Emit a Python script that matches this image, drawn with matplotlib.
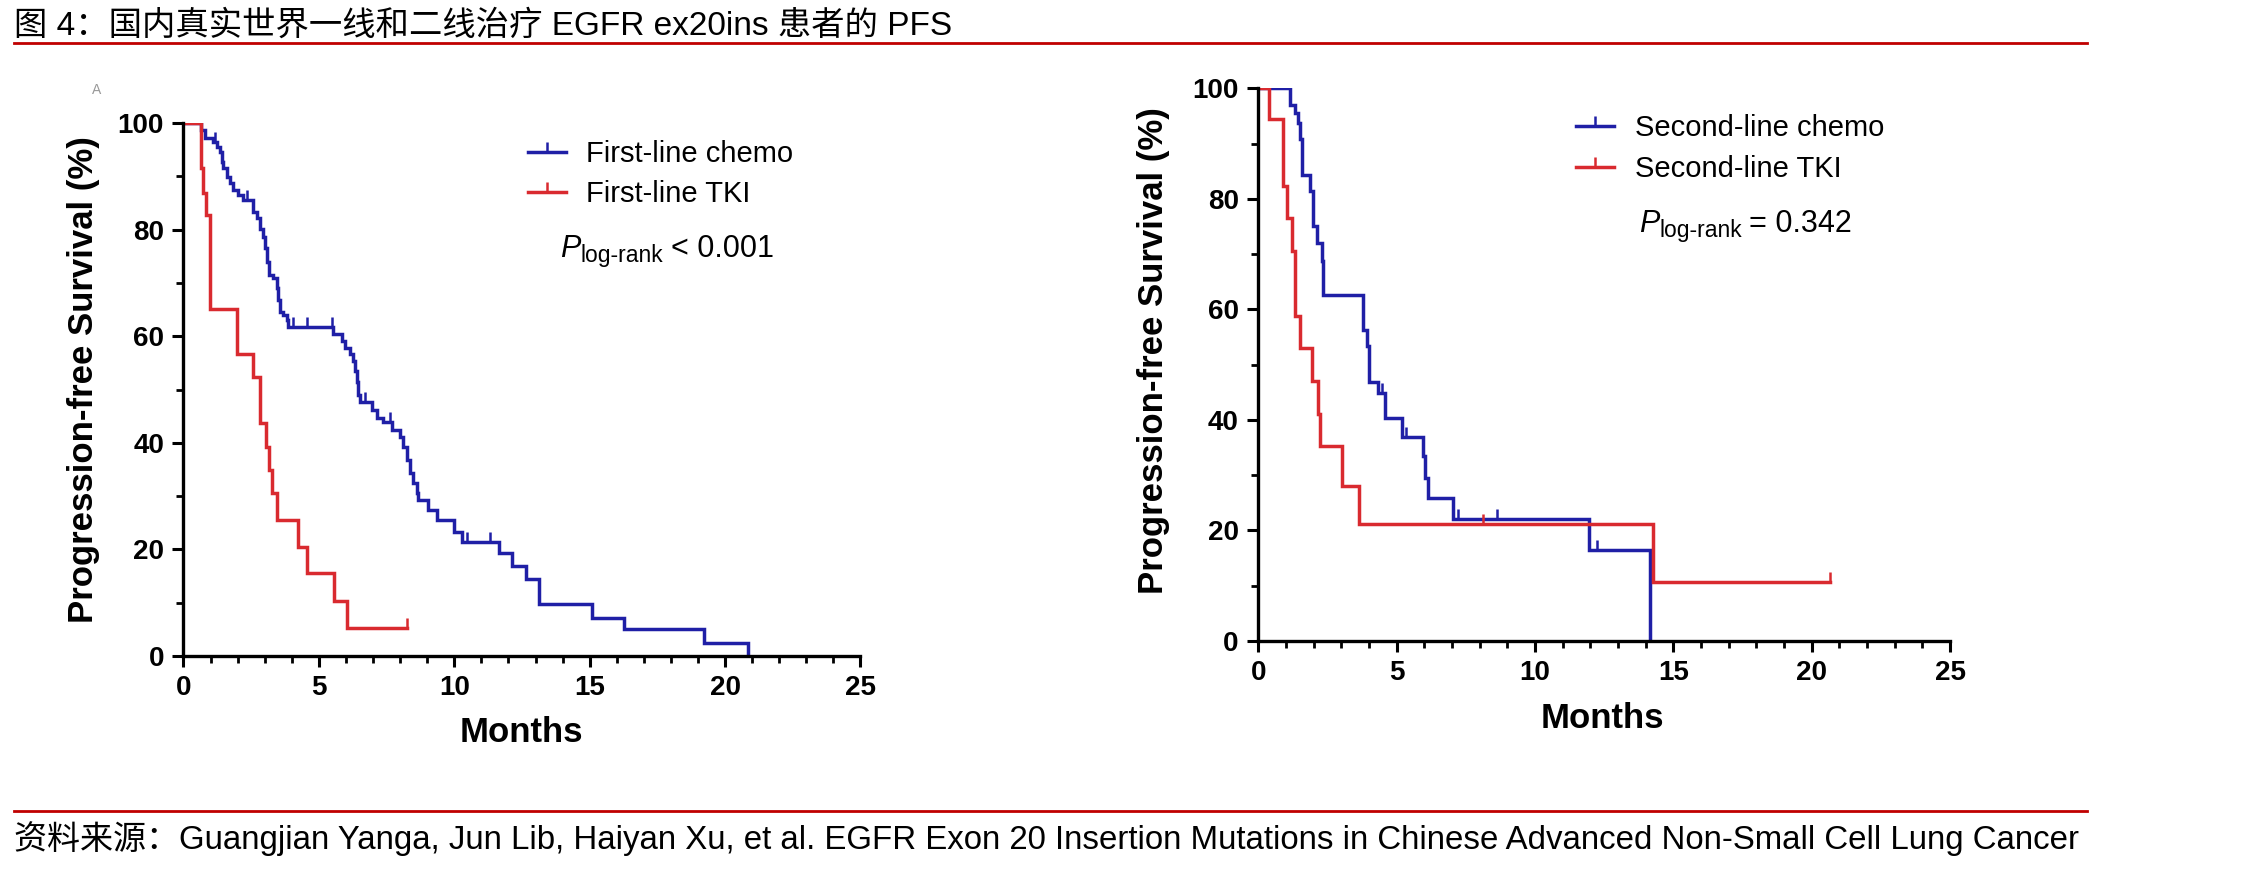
import matplotlib
matplotlib.use("Agg")
import matplotlib.pyplot as plt
import numpy as np
from matplotlib.lines import Line2D

plt.rcParams["font.family"] = ["Liberation Sans", "DejaVu Sans"]

# ---------------------------------------------------------------- data
# left panel: first line
fl_chemo_t = [0, 0.63, 0.79, 1.10, 1.23, 1.35, 1.41, 1.47, 1.59, 1.71, 1.84, 2.03, 2.21,
              2.58, 2.70, 2.83, 2.95, 3.01, 3.10, 3.17, 3.32, 3.44, 3.50, 3.56, 3.69, 3.81,
              3.87, 5.53, 5.84, 5.96, 6.15, 6.27, 6.33, 6.39, 6.46, 6.52, 6.95, 7.13, 7.38,
              7.69, 8.00, 8.12, 8.24, 8.36, 8.49, 8.61, 8.67, 9.04, 9.35, 10.00, 10.27,
              11.66, 12.13, 12.63, 13.12, 15.10, 16.25, 19.23, 20.86]
fl_chemo_s = [100, 98.7, 97.2, 96.5, 95.6, 94.6, 92.7, 91.5, 89.9, 88.7, 87.4, 86.5, 85.6,
              83.4, 82.1, 80.2, 78.7, 76.5, 74.0, 71.5, 70.9, 69.0, 66.8, 64.6, 64.0, 63.0,
              61.8, 60.5, 59.1, 57.8, 56.6, 55.3, 53.4, 51.5, 49.0, 47.7, 46.1, 44.6, 43.9,
              42.4, 41.1, 39.3, 36.8, 34.3, 32.4, 30.5, 29.3, 27.4, 25.5, 23.3, 21.4,
              19.3, 16.8, 14.4, 9.7, 7.2, 5.0, 2.5, 0.0]
fl_chemo_cens = [1.16, 2.35, 4.06, 4.55, 5.47, 6.70, 7.63, 10.46, 11.32]

fl_tki_t = [0, 0.63, 0.73, 0.83, 0.98, 1.96, 2.55, 2.82, 3.05, 3.17, 3.26, 3.47, 4.24,
            4.55, 5.56, 6.03, 8.24]
fl_tki_s = [100, 91.5, 86.8, 82.7, 65.2, 56.6, 52.4, 43.7, 39.3, 34.9, 30.5, 25.5, 20.5,
            15.5, 10.4, 5.2, 5.2]
fl_tki_cens = [8.24]

# right panel: second line
sl_chemo_t = [0, 1.15, 1.33, 1.45, 1.51, 1.57, 1.87, 1.99, 2.11, 2.29, 2.35, 3.80, 3.94,
              4.00, 4.34, 4.58, 5.18, 5.96, 6.02, 6.14, 7.05, 11.96, 14.16]
sl_chemo_s = [100, 97.1, 95.6, 93.8, 90.8, 84.4, 81.4, 75.1, 72.0, 68.7, 62.7, 56.3, 53.3,
              46.9, 44.8, 40.3, 37.0, 33.4, 29.5, 25.8, 22.0, 16.4, 0.0]
sl_chemo_cens = [0.24, 0.42, 0.84, 4.46, 5.34, 7.23, 8.61, 12.23]

sl_tki_t = [0, 0.40, 0.90, 1.02, 1.21, 1.33, 1.51, 1.93, 2.17, 2.23, 3.01, 3.65, 14.25, 20.67]
sl_tki_s = [100, 94.4, 82.3, 76.6, 70.5, 58.8, 53.0, 47.0, 41.0, 35.2, 28.1, 21.1, 10.6, 10.6]
sl_tki_cens = [8.13, 20.67]

BLUE = "#1f1fa6"
RED = "#d92a2f"
DARKRED = "#c00000"

title = "图 4：国内真实世界一线和二线治疗 EGFR ex20ins 患者的 PFS"
source = ("资料来源：Guangjian Yanga, Jun Lib, Haiyan Xu, et al. EGFR Exon 20 Insertion "
          "Mutations in Chinese Advanced Non-Small Cell Lung Cancer")


def km(ax, t, s, cens, color, label):
    ax.step(t, s, where="post", color=color, lw=2.5, label=label, solid_joinstyle="miter")
    idx = np.searchsorted(t, cens, side="right") - 1
    ax.plot(cens, np.asarray(s)[idx], ls="none", marker=2, ms=7, mew=1.8, color=color)


def style_axes(ax):
    ax.set_xlim(0, 25)
    ax.set_ylim(0, 100)
    ax.set_xticks(range(0, 26, 5))
    ax.set_xticks(range(0, 26), minor=True)
    ax.set_yticks(range(0, 101, 20))
    ax.set_yticks(range(10, 100, 20), minor=True)
    for sp in ("top", "right"):
        ax.spines[sp].set_visible(False)
    for sp in ("left", "bottom"):
        ax.spines[sp].set_linewidth(2.4)
    ax.tick_params(which="major", direction="out", length=8, width=2.2, pad=6,
                   labelsize=20)
    ax.tick_params(which="minor", direction="out", length=5, width=2.0)
    for lab in ax.get_xticklabels() + ax.get_yticklabels():
        lab.set_fontweight("bold")
    ax.set_xlabel("Months", fontsize=25, fontweight="bold", va="center")
    ax.set_ylabel("Progression-free Survival (%)", fontsize=25, fontweight="bold", va="center")


def p_text(ax, x, y, value):
    t1 = ax.text(x, y, "P", style="italic", fontsize=22, transform=ax.transAxes, va="bottom")
    t2 = ax.annotate("log-rank", xy=(1, 0), xycoords=t1, xytext=(0.5, 1.5),
                     textcoords="offset points", fontsize=16.5, va="baseline")
    ax.annotate(value, xy=(1, 0), xycoords=(t2, t1), xytext=(5, 0),
                textcoords="offset points", fontsize=22, va="bottom")


fig = plt.figure(figsize=(22.68, 8.71), dpi=100)

# left
ax1 = fig.add_axes([0.0809, 0.2468, 0.2985, 0.6119])
km(ax1, fl_chemo_t, fl_chemo_s, fl_chemo_cens, BLUE, "First-line chemo")
km(ax1, fl_tki_t, fl_tki_s, fl_tki_cens, RED, "First-line TKI")
style_axes(ax1)
ax1.xaxis.set_label_coords(0.4985, -0.144)
ax1.yaxis.set_label_coords(-0.147, 0.518)
h1 = [Line2D([], [], color=BLUE, lw=2.5, marker=2, ms=7, mew=1.8),
      Line2D([], [], color=RED, lw=2.5, marker=2, ms=7, mew=1.8)]
ax1.legend(h1, ["First-line chemo", "First-line TKI"], loc="upper left",
           bbox_to_anchor=(0.509, 0.968), frameon=False, fontsize=21, handlelength=1.3,
           handletextpad=0.7, labelspacing=0.4, borderaxespad=0, borderpad=0, numpoints=1)
p_text(ax1, 0.556, 0.735, "< 0.001")

# right
ax2 = fig.add_axes([0.5548, 0.2641, 0.305, 0.6343])
km(ax2, sl_chemo_t, sl_chemo_s, sl_chemo_cens, BLUE, "Second-line chemo")
km(ax2, sl_tki_t, sl_tki_s, sl_tki_cens, RED, "Second-line TKI")
style_axes(ax2)
ax2.xaxis.set_label_coords(0.498, -0.141)
ax2.yaxis.set_label_coords(-0.152, 0.525)
ax2.legend(h1, ["Second-line chemo", "Second-line TKI"], loc="upper left",
           bbox_to_anchor=(0.46, 0.953), frameon=False, fontsize=21, handlelength=1.3,
           handletextpad=0.7, labelspacing=0.42, borderaxespad=0, borderpad=0, numpoints=1)
p_text(ax2, 0.550, 0.728, "= 0.342")

# panel letter
fig.text(0.0428, 0.8967, "A", fontsize=10, color="#999999", ha="center", va="center")

# header / footer
mixed = ["Liberation Sans", "Noto Sans CJK SC"]
fig.text(0.0062, 0.970, title, fontsize=24, family=mixed, ha="left", va="center")
fig.add_artist(Line2D([0.0062, 0.920], [0.9506, 0.9506], transform=fig.transFigure,
                      color=DARKRED, lw=2))
fig.add_artist(Line2D([0.0062, 0.920], [0.0689, 0.0689], transform=fig.transFigure,
                      color=DARKRED, lw=2))
fig.text(0.0062, 0.0367, source, fontsize=23.8, family=mixed, ha="left", va="center")

fig.savefig("out.png", dpi=100)
